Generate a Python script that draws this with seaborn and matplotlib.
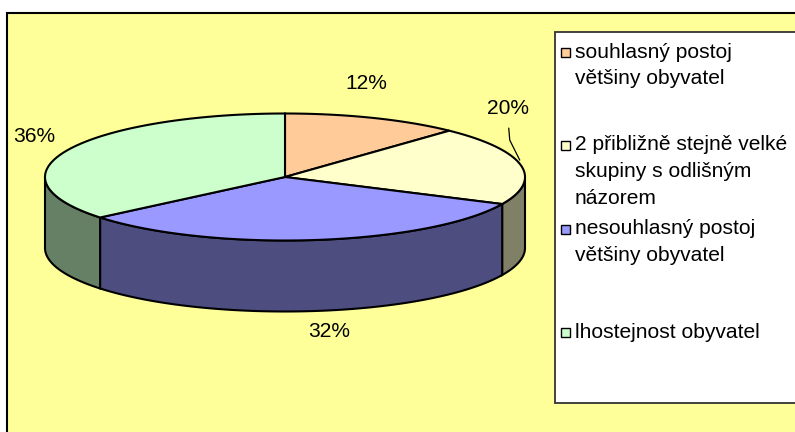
import numpy as np
import matplotlib
matplotlib.use("Agg")
import matplotlib.pyplot as plt
from matplotlib.patches import Polygon, Rectangle
import seaborn as sns

# data
categories = [
    "souhlasný postoj\nvětšiny obyvatel",
    "2 přibližně stejně velké\nskupiny s odlišným\nnázorem",
    "nesouhlasný postoj\nvětšiny obyvatel",
    "lhostejnost obyvatel",
]
shares = [12, 20, 32, 36]
top_colors = ["#FFCC99", "#FFFFCC", "#9999FF", "#CCFFCC"]

sns.set_theme(style="white")
plt.rcParams["font.family"] = ["Liberation Sans", "DejaVu Sans"]
FS = 15.1

fig = plt.figure(figsize=(7.95, 4.32), dpi=100, facecolor="white")
ax = fig.add_axes([0, 0, 1, 1])
ax.set_xlim(0, 795)
ax.set_ylim(432, 0)
ax.axis("off")

# plot area background
ax.add_patch(Rectangle((7, 12.5), 800, 430, facecolor="#FFFF99",
                       edgecolor="black", lw=1.5, zorder=0))

# pie geometry in pixel units
cx, cy, a, b, depth = 285, 177, 240, 63.5, 71


def rim(t, dz=0.0):
    t = np.radians(t)
    return cx + a * np.cos(t), cy - b * np.sin(t) + dz


vals = np.array(shares, dtype=float)
ends = 90 - 360 * np.cumsum(vals) / vals.sum()
starts = np.r_[90, ends[:-1]]
mids = (starts + ends) / 2

palette = sns.color_palette(top_colors)
side_palette = [tuple(np.array(c) * 0.5) for c in palette]

# side walls (front half only)
for s, e, col in zip(starts, ends, side_palette):
    lo, hi = max(e, -180), min(s, 0)
    if lo >= hi:
        continue
    t = np.linspace(lo, hi, 80)
    xt, yt = rim(t)
    xb, yb = rim(t[::-1], depth)
    pts = np.column_stack([np.r_[xt, xb], np.r_[yt, yb]])
    ax.add_patch(Polygon(pts, closed=True, facecolor=col,
                         edgecolor="black", lw=1.5, zorder=2))

# top wedges
for s, e, col in zip(starts, ends, palette):
    t = np.linspace(s, e, 120)
    xs, ys = rim(t)
    pts = np.column_stack([np.r_[cx, xs], np.r_[cy, ys]])
    ax.add_patch(Polygon(pts, closed=True, facecolor=col,
                         edgecolor="black", lw=1.5, zorder=3))

# percentage labels
label_nudge = [(-7, -34), (-13, -57), (14, 21), (-34, -13)]
for v, m, (dx, dy) in zip(shares, mids, label_nudge):
    drop = depth if np.sin(np.radians(m)) < 0 else 0
    px, py = rim(m, drop)
    lx, ly = px + dx, py + dy
    ax.text(lx, ly, f"{v}%", fontsize=FS, ha="center", va="center",
            color="black", zorder=5)
    if np.hypot(dx, dy) > 50:
        ax.plot([lx + 1, lx + 2, px - 1], [ly + 20, ly + 32, py - 5],
                color="black", lw=0.9, zorder=4)

# legend box
ax.add_patch(Rectangle((555, 32), 260, 371, facecolor="white",
                       edgecolor="#333333", lw=1.3, zorder=1))
legend_rows = [52, 145, 229, 332]
line_step = 26.7
for name, col, y0 in zip(categories, palette, legend_rows):
    ax.add_patch(Rectangle((560.5, y0 - 4.5), 9, 9, facecolor=col,
                           edgecolor="black", lw=1.0, zorder=5))
    for i, line in enumerate(name.split("\n")):
        ax.text(575, y0 + i * line_step, line, fontsize=FS, ha="left",
                va="center", color="black", zorder=5)

fig.savefig("out.png", dpi=100, facecolor="white")
